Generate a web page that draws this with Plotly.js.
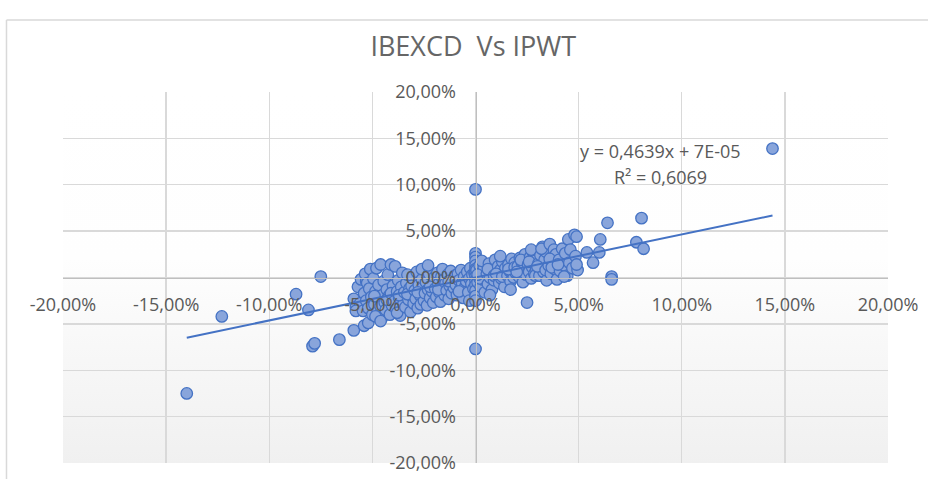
<!DOCTYPE html>
<html>
<head>
<meta charset="utf-8">
<script src="https://cdn.plot.ly/plotly-3.0.1.min.js"></script>
<style>html,body{margin:0;padding:0;background:#fff;}#chart{width:928px;height:479px;}</style>
</head>
<body>
<div id="chart"></div>
<script>
// IPWT daily returns (%) - x
const ipwtPct = [
 -14.0, -12.3, -8.7, -8.1, -7.9, -7.8, -7.5, -6.6, -5.9, -5.4, -5.2,
 -5.9, -5.8, -5.7, -5.6, -5.55, -5.8, -5.3,
 -5.45, -5.4, -5.35, -5.3, -5.25, -5.2, -5.15, -5.1, -5.05, -5.0,
 -4.95, -4.9, -4.85, -4.8, -4.75, -4.7, -4.65, -4.6, -4.55, -4.5, -4.6, -4.85, -4.9, -4.6,
 -4.45, -4.4, -4.35, -4.3, -4.25, -4.2, -4.15, -4.1, -4.05, -4.0, -4.3, -4.1,
 -3.95, -3.9, -3.85, -3.8, -3.75, -3.7, -3.65, -3.6, -3.55, -3.5, -3.8, -3.7,
 -3.45, -3.4, -3.35, -3.3, -3.25, -3.2, -3.15, -3.1, -3.05, -3.0, -3.3, -3.1,
 -2.95, -2.9, -2.85, -2.8, -2.75, -2.7, -2.65, -2.6, -2.55, -2.5, -2.8, -2.6,
 -2.45, -2.4, -2.35, -2.3, -2.25, -2.2, -2.15, -2.1, -2.05, -2.0, -2.3, -2.2,
 -1.95, -1.9, -1.85, -1.8, -1.75, -1.7, -1.65, -1.6, -1.55, -1.5, -1.8, -1.6,
 -1.45, -1.4, -1.35, -1.3, -1.25, -1.2, -1.15, -1.1, -1.05, -1.0, -1.3,
 -0.95, -0.9, -0.85, -0.8, -0.75, -0.7, -0.65, -0.6, -0.55, -0.5, -0.8,
 -0.45, -0.4, -0.35, -0.3, -0.25, -0.2, -0.15, -0.1, -0.05, -0.3,
 0.0, 0.0, 0.0, 0.0, 0.0, 0.0, 0.0, 0.0, 0.0, 0.0, 0.0, 0.0, 0.0, 0.0,
 0.05, 0.1, 0.15, 0.2, 0.25, 0.3, 0.35, 0.4, 0.45, 0.2, 0.3, 0.1,
 0.55, 0.6, 0.65, 0.7, 0.75, 0.8, 0.85, 0.9, 0.95, 0.7, 0.6, 0.9,
 1.05, 1.1, 1.15, 1.2, 1.25, 1.3, 1.35, 1.4, 1.45, 1.2, 1.0, 1.3,
 1.55, 1.6, 1.65, 1.7, 1.75, 1.8, 1.85, 1.9, 1.95, 1.7, 1.6, 1.9,
 2.05, 2.1, 2.15, 2.2, 2.25, 2.3, 2.35, 2.4, 2.45, 2.5, 2.2, 2.0,
 2.55, 2.6, 2.65, 2.7, 2.75, 2.8, 2.85, 2.9, 2.95, 2.7, 2.6, 2.9,
 3.05, 3.1, 3.15, 3.2, 3.25, 3.3, 3.35, 3.4, 3.45, 3.2, 3.0, 3.4,
 3.55, 3.6, 3.65, 3.7, 3.75, 3.8, 3.85, 3.9, 3.95, 3.6, 3.7,
 4.05, 4.1, 4.2, 4.3, 4.35, 4.45, 4.5, 4.3, 4.0,
 4.55, 4.6, 4.7, 4.8, 4.85, 4.9, 4.95, 4.9,
 5.4, 5.7, 6.0, 6.05, 6.4, 6.6, 6.6, 7.8, 8.15, 8.05, 14.4
];
// IBEXCD daily returns (%) - y
const ibexcdPct = [
 -12.5, -4.2, -1.8, -3.5, -7.4, -7.1, 0.1, -6.7, -5.7, -5.2, -4.9,
 -2.3, -3.2, -1.0, -2.8, -0.2, -3.6, -0.4,
 -3.6, -1.7, 0.4, -2.5, -0.6, -3.3, -1.2, 0.9, -2.1, -4.0,
 -0.1, -2.9, -1.5, 1.0, -3.7, -0.8, -2.3, 1.4, -4.4, -1.9, -3.1, -4.2, -2.0, -4.7,
 -0.4, -2.7, -3.5, -1.3, 0.3, -2.0, -4.0, 1.4, -3.0, -0.9, -2.4, -1.7,
 -2.6, 1.2, -3.4, -1.5, -0.3, -2.2, -4.1, -1.0, 0.5, -2.9, -3.8, -1.9,
 -1.6, -3.2, -0.6, 0.3, -2.4, -1.2, -3.7, -2.0, 0.1, -2.8, -1.8, -0.9,
 -1.4, -2.3, 0.6, -3.3, -0.8, -1.9, -2.9, -0.2, -1.1, -2.5, -1.6, 0.9,
 -1.7, -0.5, -3.0, -1.3, 0.4, -2.2, -0.9, -1.5, -2.7, 0.0, 1.3, -1.0,
 -1.2, -2.1, 0.5, -0.7, -1.6, -2.6, 0.1, -1.0, -0.3, -1.9, -1.3, 0.9,
 -0.6, -1.4, 0.3, -2.3, -0.9, 0.7, -1.7, -0.2, -1.1, 0.2, -0.4,
 -0.8, -1.9, 0.4, -0.3, -1.3, 0.8, -0.6, -2.2, 0.1, -1.0, -1.5,
 -0.4, 0.6, -1.6, -0.1, 1.0, -0.7, 0.3, -1.2, 0.5, -2.5,
 9.5, -7.7, 2.6, 2.2, 1.8, 1.3, 0.9, 0.5, 0.1, -0.3, -0.8, -1.4, -2.0, -2.5,
 0.8, -0.5, 0.2, 1.3, -1.0, 0.5, -0.2, 1.1, -1.6, -0.1, 1.8, 0.3,
 0.4, -0.7, 1.5, 0.0, 0.9, -1.3, 0.6, -0.3, 1.9, -1.9, 0.9, 0.2,
 0.3, 1.2, -0.6, 0.8, -0.1, 1.7, 0.5, -1.0, 1.0, 2.3, 0.4, 0.1,
 0.2, 1.4, 0.7, -0.4, 2.0, 1.0, 0.0, 1.6, 0.5, -1.3, 0.9, 1.1,
 1.2, 0.1, 2.1, 0.7, 1.6, -0.5, 1.0, 2.5, 0.3, -2.7, 1.9, 0.6,
 1.4, 0.6, 2.2, -0.1, 1.1, 2.7, 0.4, 1.8, 0.9, 3.0, 1.7, 0.2,
 1.5, 0.2, 2.4, 1.0, 3.3, 0.6, 1.9, 2.8, -0.3, 3.1, 1.2, 0.8,
 1.3, 3.6, 0.4, 2.2, 1.7, 3.0, 0.9, 2.5, -0.2, 2.0, 1.1,
 1.9, 0.7, 3.1, 1.3, 2.6, 0.2, 4.1, 0.1, 1.4,
 1.6, 3.0, 1.0, 4.6, 2.3, 4.4, 0.8, 1.4,
 2.7, 1.6, 2.7, 4.1, 5.9, 0.1, -0.2, 3.8, 3.1, 6.4, 13.9
];
// Excel linear trendline reported on the chart
const trendSlope = 0.4639;
const trendIntercept = 0.00007;
const trendLabel = "y = 0,4639x + 7E-05";
const r2Label = "R² = 0,6069";
const tickVals = [-0.20, -0.15, -0.10, -0.05, 0, 0.05, 0.10, 0.15, 0.20];
const tickText = ["-20,00%", "-15,00%", "-10,00%", "-5,00%", "0,00%", "5,00%", "10,00%", "15,00%", "20,00%"];
const chartTitle = "IBEXCD  Vs IPWT";

const xs = ipwtPct.map(v => v / 100);
const ys = ibexcdPct.map(v => v / 100);
const xMin = Math.min(...xs), xMax = Math.max(...xs);

const gradSvg = '<svg xmlns="http://www.w3.org/2000/svg" width="100" height="100" preserveAspectRatio="none">' +
  '<defs><linearGradient id="g" x1="0" y1="0" x2="0" y2="1">' +
  '<stop offset="0" stop-color="#ffffff"/><stop offset="0.45" stop-color="#fefefe"/><stop offset="1" stop-color="#f0f0f0"/>' +
  '</linearGradient></defs><rect width="100" height="100" fill="url(#g)"/></svg>';

const font = {family: "Open Sans, sans-serif", size: 18, color: "#595959"};

const traces = [
  {
    x: xs, y: ys, type: "scatter", mode: "markers",
    marker: {size: 11.5, color: "#89a5db", line: {color: "#4472c4", width: 1.3}},
    hoverinfo: "x+y"
  },
  {
    x: [xMin, xMax],
    y: [trendSlope * xMin + trendIntercept, trendSlope * xMax + trendIntercept],
    type: "scatter", mode: "lines",
    line: {color: "#4472c4", width: 2},
    hoverinfo: "skip"
  }
];

const axisCommon = {
  range: [-0.2, 0.2],
  tickmode: "array",
  tickvals: tickVals,
  ticktext: tickText,
  showgrid: true,
  gridcolor: "#d9d9d9",
  gridwidth: 1.3,
  zeroline: false,
  showline: true,
  linecolor: "#bfbfbf",
  linewidth: 1.3,
  ticks: "",
  tickfont: font,
  anchor: "free",
  position: 0.5,
  fixedrange: true
};

const layout = {
  width: 928, height: 479,
  margin: {l: 63, r: 40, t: 92, b: 16},
  paper_bgcolor: "#ffffff",
  plot_bgcolor: "rgba(0,0,0,0)",
  showlegend: false,
  title: {
    text: chartTitle,
    font: {family: "Open Sans, sans-serif", size: 27, color: "#666666"},
    xref: "container", yref: "container", x: 0.51, y: 0.902,
    xanchor: "center", yanchor: "middle"
  },
  xaxis: Object.assign({}, axisCommon, {ticklabelstandoff: 11}),
  yaxis: Object.assign({}, axisCommon, {ticklabelstandoff: 16}),
  images: [{
    source: "data:image/svg+xml;charset=utf-8," + encodeURIComponent(gradSvg),
    xref: "paper", yref: "paper", x: 0, y: 1, sizex: 1, sizey: 1,
    sizing: "stretch", xanchor: "left", yanchor: "top", layer: "below"
  }],
  annotations: [
    {text: trendLabel, xref: "x", yref: "y", x: 0.0895, y: 0.136, showarrow: false,
     font: {family: "Open Sans, sans-serif", size: 18, color: "#595959"}},
    {text: r2Label, xref: "x", yref: "y", x: 0.0895, y: 0.108, showarrow: false,
     font: {family: "Open Sans, sans-serif", size: 18, color: "#595959"}}
  ],
  shapes: [
    {type: "line", xref: "paper", yref: "paper", x0: -0.0685, x1: -0.0685, y0: 1.194, y1: -0.05,
     line: {color: "#d9d9d9", width: 1.5}},
    {type: "line", xref: "paper", yref: "paper", x0: -0.0685, x1: 1.06, y0: 1.194, y1: 1.194,
     line: {color: "#d9d9d9", width: 1.5}}
  ]
};

Plotly.newPlot("chart", traces, layout, {displayModeBar: false, staticPlot: true});
</script>
</body>
</html>
